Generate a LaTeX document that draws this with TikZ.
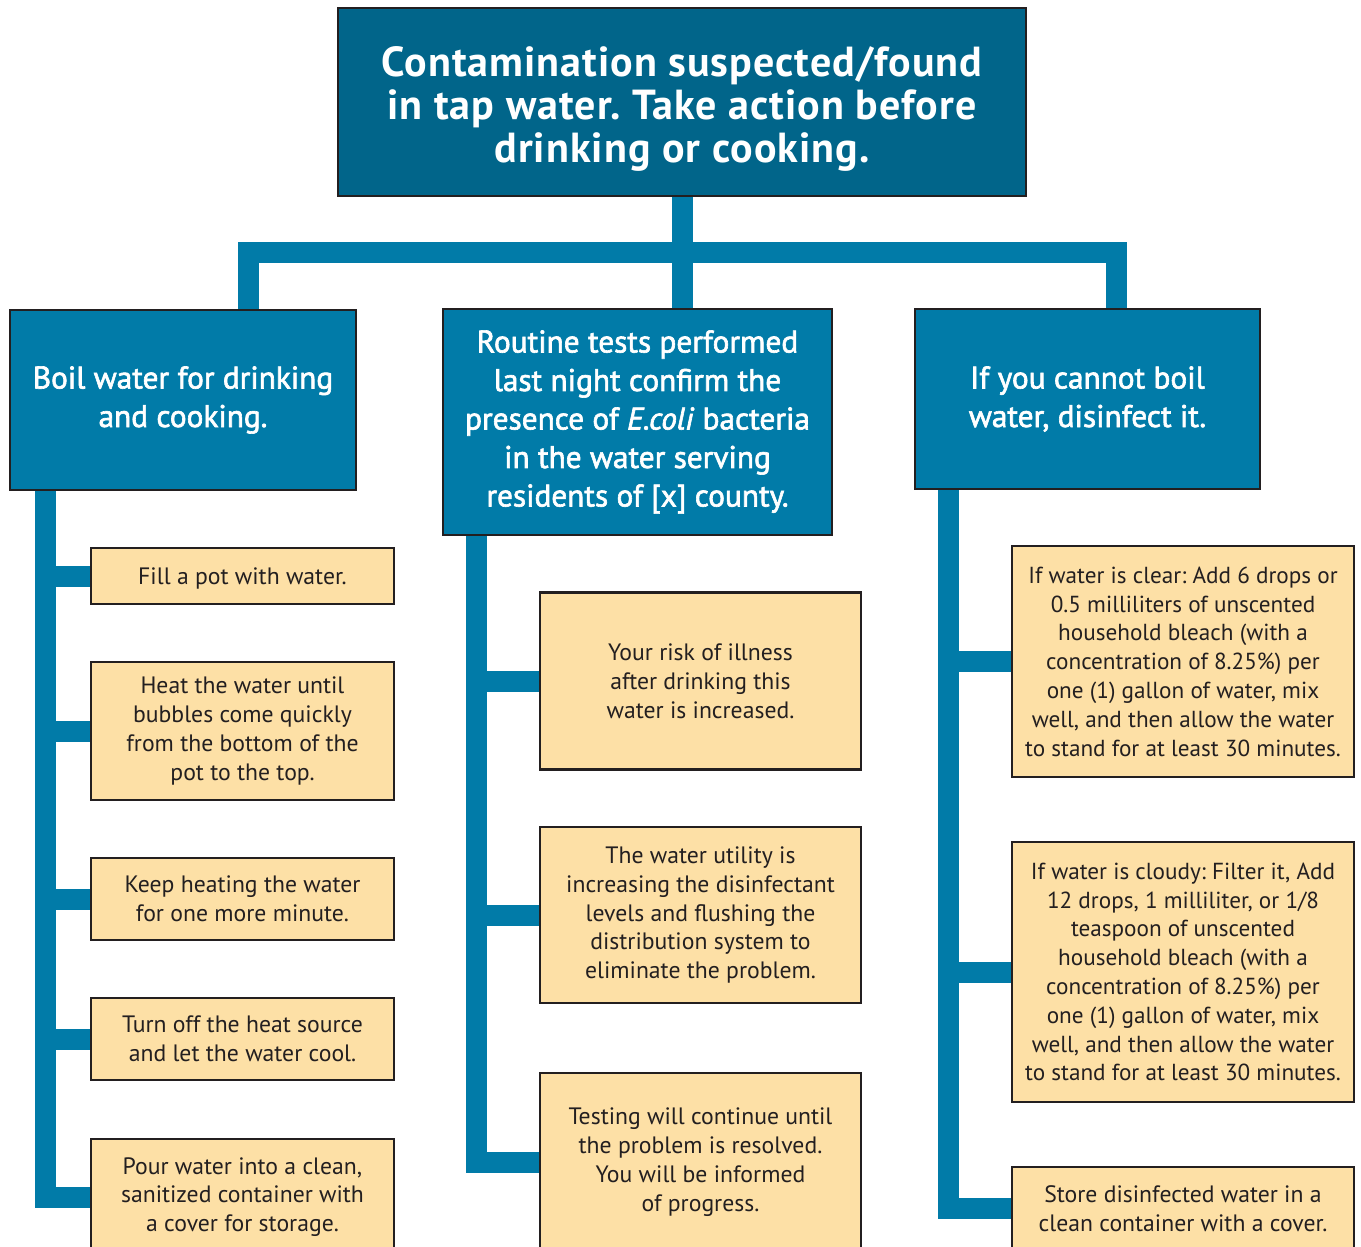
\documentclass[tikz,border=0pt]{standalone}
\usepackage{fontspec}
\setmainfont{PT Sans}
\newfontfamily\semib[FakeBold=2]{PT Sans}
\newfontfamily\titlef[LetterSpace=2.4]{PT Sans Bold}
\usetikzlibrary{backgrounds}
\definecolor{topblue}{HTML}{01658A}
\definecolor{midblue}{HTML}{017BA8}
\definecolor{leafc}{HTML}{FDE0A6}
\definecolor{bord}{HTML}{231F20}
\definecolor{txt}{HTML}{231F20}
\frenchspacing
\begin{document}
\frenchspacing
\begin{tikzpicture}[x=1pt,y=-1pt,
 box/.style={draw=bord, line width=2.5pt, inner sep=0pt, align=center},
 topbox/.style={box, fill=topblue, text=white, font=\titlef\fontsize{42}{43}\selectfont},
 midbox/.style={box, fill=midblue, text=white, font=\semib\fontsize{31.3}{38.5}\selectfont},
 leaf/.style={box, fill=leafc, text=txt, font=\fontsize{23.7}{28.8}\selectfont,
   execute at begin node={\rule{0pt}{21.5pt}}},
 conn/.style={draw=midblue, line width=21pt, line join=miter, line cap=butt}]
\useasboundingbox (0,0) rectangle (1361,1247);

\node[topbox, minimum width=688pt, minimum height=188pt] (top) at (682,102)
 {\rule{0pt}{44pt}Contamination suspected/found\\in tap water. Take action before\\drinking or cooking.};

\node[midbox, minimum width=346pt, minimum height=180pt] (L) at (183,400)
 {Boil water for drinking\\and cooking.};
\node[midbox, minimum width=389pt, minimum height=226pt] (M) at (637.5,422)
 {Routine tests performed\\last night confirm the\\presence of \textit{E.coli} bacteria\\in the water serving\\residents of [x] county.};
\node[midbox, minimum width=345pt, minimum height=180pt] (R) at (1087.5,399)
 {If you cannot boil\\water, disinfect it.};

% left column
\node[leaf, minimum width=303pt, minimum height=56pt] (l1) at (242.5,576) {Fill a pot with water.};
\node[leaf, minimum width=303pt, minimum height=138pt] (l2) at (242.5,731) {Heat the water until\\bubbles come quickly\\from the bottom of the\\pot to the top.};
\node[leaf, minimum width=303pt, minimum height=82pt] (l3) at (242.5,899) {Keep heating the water\\for one more minute.};
\node[leaf, minimum width=303pt, minimum height=82pt] (l4) at (242.5,1039) {Turn off the heat source\\and let the water cool.};
\node[leaf, minimum width=303pt, minimum height=116pt] (l5) at (242.5,1197) {Pour water into a clean,\\sanitized container with\\a cover for storage.};

% middle column
\node[leaf, minimum width=321pt, minimum height=177pt] (m1) at (700.5,681) {Your risk of illness\\after drinking this\\water is increased.};
\node[leaf, minimum width=321pt, minimum height=176pt] (m2) at (700.5,915) {The water utility is\\increasing the disinfectant\\levels and flushing the\\distribution system to\\eliminate the problem.};
\node[leaf, minimum width=321pt, minimum height=178pt] (m3) at (700.5,1162) {Testing will continue until\\the problem is resolved.\\You will be informed\\of progress.};

% right column
\node[leaf, minimum width=342pt, minimum height=231pt, font=\fontsize{23.2}{28.8}\selectfont] (r1) at (1183,661.5) {If water is clear: Add 6 drops or\\0.5 milliliters of unscented\\household bleach (with a\\concentration of 8.25\%) per\\one (1) gallon of water, mix\\well, and then allow the water\\to stand for at least 30 minutes.};
\node[leaf, minimum width=342pt, minimum height=260pt, font=\fontsize{23.2}{28.8}\selectfont] (r2) at (1183,972) {If water is cloudy: Filter it, Add\\12 drops, 1 milliliter, or 1/8\\teaspoon of unscented\\household bleach (with a\\concentration of 8.25\%) per\\one (1) gallon of water, mix\\well, and then allow the water\\to stand for at least 30 minutes.};
\node[leaf, minimum width=342pt, minimum height=83pt] (r3) at (1183,1208.5) {Store disinfected water in a\\clean container with a cover.};

\begin{scope}[on background layer]
 \coordinate (hl) at (248,252);
 \coordinate (hr) at (1116,252);
 \draw[conn] (top.south) -- (top.south |- M.north);
 \draw[conn] (L.north -| hl) -- (hl) -- (hr) -- (R.north -| hr);
 % left spine
 \coordinate (ls) at (45,0);
 \draw[conn] (L.south -| ls) -- (l5.west -| ls) -- (l5.west);
 \foreach \n in {l1,l2,l3,l4} \draw[conn] (\n.west) -- (\n.west -| ls);
 % middle spine
 \coordinate (ms) at (476,0);
 \draw[conn] (M.south -| ms) -- (m3.west -| ms) -- (m3.west);
 \foreach \n in {m1,m2} \draw[conn] (\n.west) -- (\n.west -| ms);
 % right spine
 \coordinate (rs) at (948,0);
 \draw[conn] (R.south -| rs) -- (r3.west -| rs) -- (r3.west);
 \foreach \n in {r1,r2} \draw[conn] (\n.west) -- (\n.west -| rs);
\end{scope}
\end{tikzpicture}
\end{document}
